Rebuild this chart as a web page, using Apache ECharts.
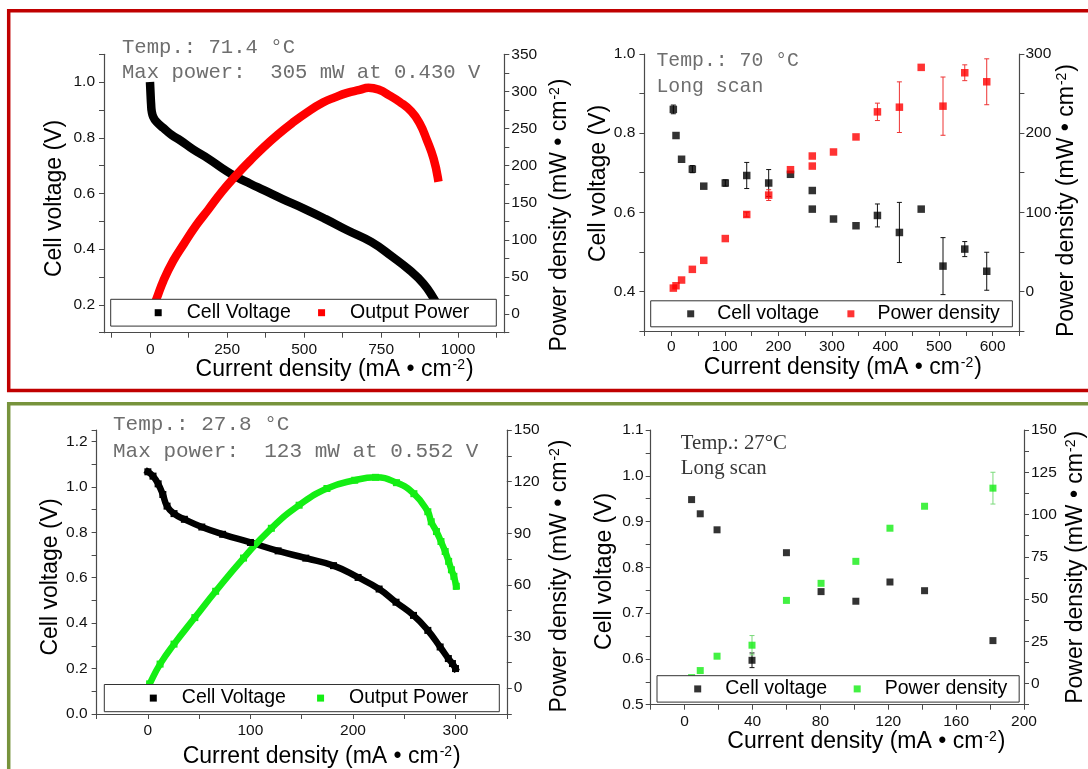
<!DOCTYPE html>
<html>
<head>
<meta charset="utf-8">
<title>Fuel cell polarization and power curves</title>
<script src="https://cdn.jsdelivr.net/npm/echarts@6/dist/echarts.min.js"></script>
<style>
  html, body { margin: 0; padding: 0; background: #ffffff; }
  #chart { width: 1088px; height: 769px; }
</style>
</head>
<body>
<div id="chart"></div>
<script>
// ---- Panel A: polarization sweep at 71.4 °C ----
const sweep71_currentV = [0, 1.5, 3, 5, 10, 20, 43, 70, 99, 140, 189, 235, 279, 325, 369, 430, 499, 570, 640, 718, 786, 842, 887, 921, 934];
const sweep71_voltage  = [0.985, 0.950, 0.920, 0.895, 0.875, 0.858, 0.835, 0.810, 0.790, 0.758, 0.725, 0.690, 0.660, 0.635, 0.612, 0.580, 0.546, 0.508, 0.468, 0.426, 0.373, 0.325, 0.277, 0.223, 0.197];
const sweep71_currentP = [0, 20, 43, 75, 110, 150, 189, 235, 279, 325, 369, 415, 460, 510, 561, 600, 640, 680, 709, 745, 775, 810, 848, 875, 899, 920, 934];
const sweep71_power    = [0, 20, 45, 72, 95, 120, 141, 166, 187, 207, 225, 242, 257, 272, 285, 292, 298, 302, 305, 302, 295, 286, 273, 257, 234, 210, 184];

// ---- Panel B: long scan at 70 °C ----
const scan70_current  = [4, 9, 19.4, 39.5, 60.8, 101, 141, 182, 222.7, 263.4, 263.4, 303, 345, 385, 426, 466.7, 507.4, 548, 589];
const scan70_voltage  = [0.860, 0.794, 0.734, 0.709, 0.666, 0.674, 0.693, 0.674, 0.696, 0.655, 0.608, 0.583, 0.566, 0.592, 0.549, 0.608, 0.464, 0.507, 0.451];
const scan70_voltErr  = [0.011, 0, 0, 0.009, 0, 0.008, 0.033, 0.034, 0, 0, 0, 0, 0, 0.029, 0.076, 0, 0.072, 0.019, 0.048];
const scan70_power    = [4.2, 7.2, 14.4, 27.9, 39.3, 66.8, 97.2, 121.7, 153.8, 171.1, 158.4, 176.2, 195.2, 226.9, 232.8, 283.1, 234.1, 276.3, 264.9];
const scan70_powerErr = [0, 0, 0, 0, 0, 0, 3, 6.8, 0, 0, 0, 0, 0, 11, 32, 0, 36.8, 10, 29];

// ---- Panel C: polarization sweep at 27.8 °C ----
const sweep28_currentV = [0, 5, 10, 14.6, 18.7, 25.5, 35.6, 52.6, 72.9, 100, 127, 154, 181, 205, 225.5, 242, 259, 273, 285, 293, 297, 300];
const sweep28_voltage  = [1.066, 1.047, 1.013, 0.966, 0.915, 0.882, 0.857, 0.823, 0.791, 0.755, 0.718, 0.686, 0.653, 0.601, 0.550, 0.492, 0.434, 0.368, 0.295, 0.244, 0.222, 0.200];
const sweep28_currentP = [0, 1.7, 11.9, 25.5, 45.8, 66.1, 93.3, 120.4, 147.5, 174.6, 201.7, 222, 242.4, 259.4, 273, 276.3, 281.4, 285.8, 289.9, 293.3, 296, 298.4, 300.7];
const sweep28_power    = [0, 2.5, 14, 25.6, 41, 56.3, 75.6, 92.9, 106.3, 116, 120.8, 122.5, 119.4, 113, 102.5, 96.7, 91, 85.2, 79.4, 73.7, 68.8, 65, 59.2];

// ---- Panel D: long scan at 27 °C ----
const scan27_current  = [4.1, 9.2, 19.1, 39.7, 60, 80.4, 100.9, 121, 141.4, 181.7];
const scan27_voltage  = [0.948, 0.917, 0.882, 0.597, 0.832, 0.747, 0.726, 0.768, 0.749, 0.640];
const scan27_voltErr  = [0, 0, 0, 0.016, 0, 0, 0, 0, 0, 0];
const scan27_power    = [3.5, 7.7, 16.2, 22.7, 49.2, 59.3, 72.3, 91.9, 104.9, 115.6];
const scan27_powerErr = [0, 0, 0, 5.7, 0, 0, 0, 0, 0, 9.4];

// ---- tick positions for the 71.4 °C current axis ----
const sweep71_xTicks  = [-125, 0, 125, 250, 375, 500, 625, 750, 875, 1000, 1125];
const sweep71_xLabels = [0, 250, 500, 750, 1000];

// ---- legend captions ----
const legendText = {
  A_v: 'Cell Voltage', A_p: 'Output Power',
  B_v: 'Cell voltage', B_p: 'Power density',
  C_v: 'Cell Voltage', C_p: 'Output Power',
  D_v: 'Cell voltage', D_p: 'Power density'
};

const SANS = "'Liberation Sans', Arial, sans-serif";
const AXIS_COLOR = '#4a4a4a';
const RED = '#ff0000';
const GREEN = '#14ee14';

const titleRich = {
  t: { fontFamily: SANS, fontSize: 23, color: '#000' },
  s: { fontFamily: SANS, fontSize: 14, color: '#000', verticalAlign: 'top', padding: [0, 1, 0, 1] }
};
const currentTitle = '{t|Current density (mA \u2022 cm}{s|-2}{t|)}';
const voltageTitle = '{t|Cell voltage (V)}';
const powerTitle = '{t|Power density (mW \u2022 cm}{s|-2}{t|)}';

function pairs(xs, ys) { return xs.map((x, i) => [x, ys[i]]); }
function triples(xs, ys, es) { return xs.map((x, i) => [x, ys[i], es[i]]).filter(d => d[2] > 0); }

// label only every `step`, inside [lo, hi]
function tickText(step, lo, hi, dec) {
  return function (v) {
    const k = v / step;
    if (Math.abs(k - Math.round(k)) < 1e-6 && v > lo - 1e-9 && v < hi + 1e-9) return v.toFixed(dec);
    return '';
  };
}

function axis(o) {
  const a = {
    type: 'value',
    gridIndex: o.grid,
    position: o.position,
    min: o.min,
    max: o.max,
    name: o.name,
    nameLocation: 'middle',
    nameGap: o.gap,
    nameTextStyle: { rich: titleRich, padding: o.pad || [0, 0, 0, 0] },
    axisLine: { show: true, onZero: false, lineStyle: { color: AXIS_COLOR, width: 1.2 } },
    axisTick: { show: true, inside: false, length: 5, lineStyle: { color: AXIS_COLOR, width: 1 } },
    splitLine: { show: false },
    axisLabel: {
      color: '#111', fontFamily: SANS, fontSize: 15.5, margin: o.margin,
      formatter: o.formatter
    }
  };
  if (o.interval !== undefined) a.interval = o.interval;
  if (o.rotate) a.nameRotate = 90;
  if (o.tickValues) a.axisTick.customValues = o.tickValues;
  if (o.labelValues) a.axisLabel.customValues = o.labelValues;
  return a;
}

function errorBars(xi, yi, data, color) {
  return {
    type: 'custom', xAxisIndex: xi, yAxisIndex: yi, data: data, silent: true, z: 2,
    encode: { x: 0, y: 1 },
    renderItem: function (params, api) {
      const x = api.value(0), y = api.value(1), e = api.value(2);
      const hi = api.coord([x, y + e]), lo = api.coord([x, y - e]);
      const w = 2.5;
      const st = { stroke: color, lineWidth: 1 };
      return {
        type: 'group',
        children: [
          { type: 'line', shape: { x1: hi[0], y1: hi[1], x2: lo[0], y2: lo[1] }, style: st },
          { type: 'line', shape: { x1: hi[0] - w, y1: hi[1], x2: hi[0] + w, y2: hi[1] }, style: st },
          { type: 'line', shape: { x1: lo[0] - w, y1: lo[1], x2: lo[0] + w, y2: lo[1] }, style: st }
        ]
      };
    }
  };
}

function legendBox(o) {
  return {
    show: true, left: o.left, top: o.top, orient: 'horizontal',
    padding: o.padding, itemGap: o.gap, itemWidth: 7, itemHeight: 7,
    icon: 'rect', selectedMode: false,
    backgroundColor: '#ffffff', borderColor: '#333', borderWidth: 1,
    textStyle: { fontFamily: SANS, fontSize: 19.5, color: '#000', padding: [0, 0, 0, o.textPad] },
    formatter: function (n) { return legendText[n]; },
    data: o.data
  };
}

function note(x, y, text, font, color) {
  return { type: 'text', x: x, y: y, silent: true, z: 10,
    style: { text: text, font: font, fill: color, align: 'left', verticalAlign: 'middle' } };
}

const MONO_A = '20.6px "Liberation Mono", "Courier New", monospace';
const MONO_B = '19.8px "Liberation Mono", "Courier New", monospace';
const MONO_C = '21px "Liberation Mono", "Courier New", monospace';
const SERIF_D = '20.8px "Liberation Serif", "Times New Roman", serif';
const NOTE_GRAY = '#6e6e6e';

const curveLine = (color, width) => ({ color: color, width: width, join: 'round', cap: 'square' });

const option = {
  animation: false,
  backgroundColor: '#ffffff',
  grid: [
    { left: 104, top: 54.3, width: 400.3, height: 278.4 },
    { left: 644.4, top: 54, width: 375, height: 277 },
    { left: 96.6, top: 430, width: 410.2, height: 286.3 },
    { left: 650.7, top: 430, width: 373.9, height: 274.7 }
  ],
  xAxis: [
    axis({ grid: 0, position: 'bottom', min: -150, max: 1150, name: currentTitle, gap: 25, pad: [0, 0, 0, 61], margin: 9,
           tickValues: sweep71_xTicks, labelValues: sweep71_xLabels, formatter: v => String(v) }),
    axis({ grid: 1, position: 'bottom', min: -50, max: 650, interval: 50, name: currentTitle, gap: 25, pad: [0, 0, 0, 22], margin: 8,
           formatter: tickText(100, 0, 600, 0) }),
    axis({ grid: 2, position: 'bottom', min: -50, max: 350, interval: 50, name: currentTitle, gap: 31, pad: [0, 0, 0, 40], margin: 9,
           formatter: tickText(100, 0, 300, 0) }),
    axis({ grid: 3, position: 'bottom', min: -20, max: 200, interval: 20, name: currentTitle, gap: 21, pad: [0, 0, 0, 58], margin: 9,
           formatter: tickText(40, 0, 200, 0) })
  ],
  yAxis: [
    axis({ grid: 0, position: 'left', min: 0.1, max: 1.1, interval: 0.1, name: voltageTitle, rotate: true, gap: 38, pad: [0, 10, 0, 0], margin: 9,
           formatter: tickText(0.2, 0.2, 1.0, 1) }),
    axis({ grid: 0, position: 'right', min: -25, max: 350, interval: 25, name: powerTitle, rotate: true, gap: 44, pad: [0, 43, 0, 0], margin: 7,
           formatter: tickText(50, 0, 350, 0) }),
    axis({ grid: 1, position: 'left', min: 0.3, max: 1.0, interval: 0.1, name: voltageTitle, rotate: true, gap: 22, pad: [0, 0, 0, 18], margin: 9,
           formatter: tickText(0.2, 0.4, 1.0, 1) }),
    axis({ grid: 1, position: 'right', min: -50, max: 300, interval: 50, name: powerTitle, rotate: true, gap: 36, pad: [0, 16, 0, 0], margin: 6,
           formatter: tickText(100, 0, 300, 0) }),
    axis({ grid: 2, position: 'left', min: 0, max: 1.25, interval: 0.1, name: voltageTitle, rotate: true, gap: 34, pad: [0, 10, 0, 0], margin: 9,
           formatter: tickText(0.2, 0, 1.2, 1) }),
    axis({ grid: 2, position: 'right', min: -15, max: 150, interval: 15, name: powerTitle, rotate: true, gap: 41, pad: [0, 8, 0, 0], margin: 7,
           formatter: tickText(30, 0, 150, 0) }),
    axis({ grid: 3, position: 'left', min: 0.5, max: 1.1, interval: 0.05, name: voltageTitle, rotate: true, gap: 35, pad: [0, 8, 0, 0], margin: 7,
           formatter: tickText(0.1, 0.5, 1.1, 1) }),
    axis({ grid: 3, position: 'right', min: -12.5, max: 150, interval: 12.5, name: powerTitle, rotate: true, gap: 40, pad: [0, 0, 0, 0], margin: 7,
           formatter: tickText(25, 0, 150, 0) })
  ],
  legend: [
    legendBox({ left: 110.7, top: 299.3, padding: [3.4, 27, 3.4, 44], gap: 27.3, textPad: 20, data: ['A_v', 'A_p'] }),
    legendBox({ left: 650.7, top: 300.8, padding: [3, 12.5, 3, 36.5], gap: 28.3, textPad: 18, data: ['B_v', 'B_p'] }),
    legendBox({ left: 104.3, top: 684.5, padding: [3.6, 31, 3.6, 45.5], gap: 31.2, textPad: 20, data: ['C_v', 'C_p'] }),
    legendBox({ left: 657, top: 675.7, padding: [3.2, 12, 3.2, 37.2], gap: 26.6, textPad: 19, data: ['D_v', 'D_p'] })
  ],
  graphic: [
    { type: 'rect', silent: true, z: 0, shape: { x: 8.7, y: 10.7, width: 1200, height: 379.8 },
      style: { fill: 'none', stroke: '#c00000', lineWidth: 3.5 } },
    { type: 'rect', silent: true, z: 0, shape: { x: 8.7, y: 403.7, width: 1200, height: 500 },
      style: { fill: 'none', stroke: '#77933c', lineWidth: 3.5 } },
    note(122, 48, 'Temp.: 71.4 \u00B0C', MONO_A, NOTE_GRAY),
    note(122, 73, 'Max power:  305 mW at 0.430 V', MONO_A, NOTE_GRAY),
    note(656.5, 61, 'Temp.: 70 \u00B0C', MONO_B, NOTE_GRAY),
    note(656.5, 86.7, 'Long scan', MONO_B, NOTE_GRAY),
    note(113, 424.3, 'Temp.: 27.8 \u00B0C', MONO_C, NOTE_GRAY),
    note(113, 451, 'Max power:  123 mW at 0.552 V', MONO_C, NOTE_GRAY),
    note(680.7, 443.3, 'Temp.: 27\u00B0C', SERIF_D, '#383838'),
    note(680.7, 469, 'Long scan', SERIF_D, '#383838')
  ],
  series: [
    // panel A
    { type: 'line', name: 'A_v', xAxisIndex: 0, yAxisIndex: 0, data: pairs(sweep71_currentV, sweep71_voltage),
      symbol: 'none', smooth: 0.5, itemStyle: { color: '#000' },
      lineStyle: curveLine('#000', 8.5), z: 2 },
    { type: 'line', name: 'A_p', xAxisIndex: 0, yAxisIndex: 1, data: pairs(sweep71_currentP, sweep71_power),
      symbol: 'none', smooth: 0.5, itemStyle: { color: RED },
      lineStyle: curveLine(RED, 8.5), z: 2 },
    // panel B
    errorBars(1, 2, triples(scan70_current, scan70_voltage, scan70_voltErr), '#111'),
    errorBars(1, 3, triples(scan70_current, scan70_power, scan70_powerErr), '#ee3333'),
    { type: 'scatter', name: 'B_v', xAxisIndex: 1, yAxisIndex: 2, data: pairs(scan70_current, scan70_voltage),
      symbol: 'rect', symbolSize: 7.5, itemStyle: { color: '#000' }, z: 3 },
    { type: 'scatter', name: 'B_p', xAxisIndex: 1, yAxisIndex: 3, data: pairs(scan70_current, scan70_power),
      symbol: 'rect', symbolSize: 7.5, itemStyle: { color: RED }, z: 3 },
    // panel C
    { type: 'line', name: 'C_v', xAxisIndex: 2, yAxisIndex: 4, data: pairs(sweep28_currentV, sweep28_voltage),
      symbol: 'rect', symbolSize: 7, showAllSymbol: true, smooth: 0.5,
      itemStyle: { color: '#000' }, lineStyle: curveLine('#000', 6.5), z: 2 },
    { type: 'line', name: 'C_p', xAxisIndex: 2, yAxisIndex: 5, data: pairs(sweep28_currentP, sweep28_power),
      symbol: 'rect', symbolSize: 7, showAllSymbol: true, smooth: 0.5,
      itemStyle: { color: GREEN }, lineStyle: curveLine(GREEN, 6.5), z: 2 },
    // panel D
    errorBars(3, 6, triples(scan27_current, scan27_voltage, scan27_voltErr), '#111'),
    errorBars(3, 7, triples(scan27_current, scan27_power, scan27_powerErr), '#7ada7a'),
    { type: 'scatter', name: 'D_v', xAxisIndex: 3, yAxisIndex: 6, data: pairs(scan27_current, scan27_voltage),
      symbol: 'rect', symbolSize: 7, itemStyle: { color: '#000' }, z: 3 },
    { type: 'scatter', name: 'D_p', xAxisIndex: 3, yAxisIndex: 7, data: pairs(scan27_current, scan27_power),
      symbol: 'rect', symbolSize: 7, itemStyle: { color: GREEN }, z: 3 }
  ]
};

const chart = echarts.init(document.getElementById('chart'), null, { renderer: 'canvas' });
chart.setOption(option);
</script>
</body>
</html>
